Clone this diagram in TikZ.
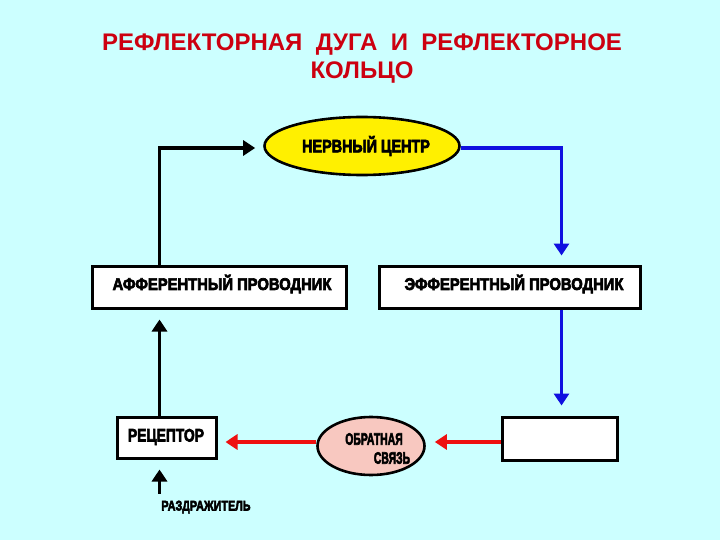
\documentclass[tikz,border=0pt]{standalone}
\usepackage{fontspec}
\usepackage{graphicx}
\setmainfont{Liberation Sans}
\newfontfamily\heavy{Liberation Sans Bold}[FakeBold=4]
\usetikzlibrary{arrows.meta,calc,shapes.geometric}
\definecolor{bg}{HTML}{CCFFFF}
\definecolor{titlered}{HTML}{CC0010}
\definecolor{ncyellow}{HTML}{FFF000}
\definecolor{fbpink}{HTML}{F8C8C0}
\definecolor{arrblue}{HTML}{1010E0}
\definecolor{arrred}{HTML}{EE1010}
\newcommand{\cnd}[3]{{\heavy\fontsize{#1}{#1}\selectfont\scalebox{#2}[1]{#3}}}
\tikzset{
  boxnode/.style={draw=black, line width=3pt, fill=white, inner sep=0pt},
  ellnode/.style={ellipse, draw=black, line width=2.6pt, inner sep=0pt},
  txt/.style={inner sep=0pt, text=black},
  conn/.style={line width=3.3pt, -{Triangle[length=12pt,width=15pt]}},
}
\begin{document}
\begin{tikzpicture}[x=1pt,y=-1pt]
\fill[bg] (0,0) rectangle (720,540);
\useasboundingbox (0,0) rectangle (720,540);

% title
\node[txt, text=titlered, font=\bfseries\fontsize{24}{24}\selectfont] (t1) at (362,45) {РЕФЛЕКТОРНАЯ\ \ ДУГА\ \ И\ \ РЕФЛЕКТОРНОЕ};
\node[txt, text=titlered, font=\bfseries\fontsize{24}{24}\selectfont] (t2) at (362,73) {КОЛЬЦО};

% nodes
\node[ellnode, fill=ncyellow, minimum width=195pt, minimum height=58pt] (nc) at (362,146) {};
\node[txt] (nct) at (366,146) {\cnd{18}{0.8}{НЕРВНЫЙ ЦЕНТР}};

\node[boxnode, minimum width=254pt, minimum height=42pt] (aff) at (219,287) {};
\node[txt] (afft) at (222,284) {\cnd{16.8}{0.88}{АФФЕРЕНТНЫЙ ПРОВОДНИК}};

\node[boxnode, minimum width=261pt, minimum height=42pt] (eff) at (509.5,287) {};
\node[txt] (efft) at (514,284) {\cnd{16.8}{0.88}{ЭФФЕРЕНТНЫЙ ПРОВОДНИК}};

\node[boxnode, minimum width=99pt, minimum height=41pt] (rec) at (166.5,437.5) {};
\node[txt] (rect) at (166,437) {\cnd{18}{0.77}{РЕЦЕПТОР}};

\node[boxnode, minimum width=115pt, minimum height=43pt] (rb) at (559.5,438.5) {};

\node[ellnode, fill=fbpink, minimum width=107pt, minimum height=58pt] (fb) at (371,446) {};
\node[txt] (fbt1) at (374,439) {\cnd{16.5}{0.63}{ОБРАТНАЯ}};
\node[txt] (fbt2) at (392,458) {\cnd{16.5}{0.63}{СВЯЗЬ}};

\node[txt] (irr) at (206,507) {\cnd{14}{0.77}{РАЗДРАЖИТЕЛЬ}};

% connectors
\coordinate (a1) at ($(aff.north west)+(69,0)$);
\coordinate (a2) at ($(nc.west)+(-8,2)$);
\draw[conn] (a1) |- (a2);

\coordinate (b1) at ($(nc.east)+(0,2)$);
\coordinate (b2) at ($(eff.north west)+(184,-9)$);
\draw[conn, draw=arrblue] (b1) -| (b2);

\coordinate (c1) at ($(eff.south west)+(184,0)$);
\coordinate (c2) at ($(rb.north west)+(61,-10)$);
\draw[conn, draw=arrblue] (c1) -- (c2);

\coordinate (d1) at ($(rb.west)+(0,3.5)$);
\coordinate (d2) at ($(fb.east)+(9,-4)$);
\draw[conn, draw=arrred] (d1) -- (d2);

\coordinate (e1) at ($(fb.west)+(0,-4)$);
\coordinate (e2) at ($(rec.east)+(8,4.5)$);
\draw[conn, draw=arrred] (e1) -- (e2);

\coordinate (f1) at ($(rec.north west)+(44,0)$);
\coordinate (f2) at ($(aff.south west)+(69,10)$);
\draw[conn] (f1) -- (f2);

\coordinate (g1) at ($(rec.south west)+(44,34)$);
\coordinate (g2) at ($(rec.south west)+(44,10)$);
\draw[conn] (g1) -- (g2);
\end{tikzpicture}
\end{document}
